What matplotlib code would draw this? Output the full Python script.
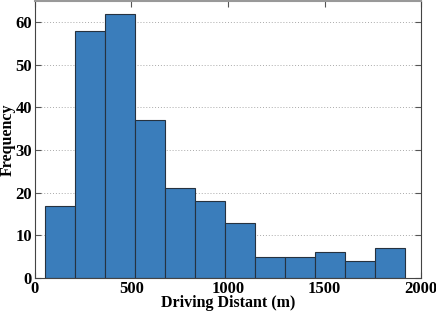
import numpy as np
import matplotlib.pyplot as plt

# histogram counts
counts = [17, 58, 62, 37, 21, 18, 13, 5, 5, 6, 4, 7]
first_edge = 52
last_edge = 1915
edges = np.linspace(first_edge, last_edge, len(counts) + 1)
centers = (edges[:-1] + edges[1:]) / 2

plt.rcParams['font.family'] = ['Liberation Serif', 'DejaVu Serif']
plt.rcParams['font.weight'] = 'bold'

fig = plt.figure(figsize=(4.36, 3.12), dpi=100)
ax = fig.add_axes([0.080, 0.109, 0.886, 0.888])

ax.hist(centers, bins=edges, weights=counts, color='#3a7dbb',
        edgecolor='#26323f', linewidth=0.8, zorder=2)

ax.set_xlim(0, 2000)
ax.set_ylim(0, 65)
ax.set_xticks([0, 500, 1000, 1500, 2000])
ax.set_yticks([0, 10, 20, 30, 40, 50, 60])
ax.yaxis.grid(True, linestyle=(0, (1, 2)), color='#aaaaaa', linewidth=0.7, zorder=0)

ax.tick_params(direction='in', top=True, right=True, labelsize=12, length=4,
               color='#555555', pad=2)
for lab in ax.get_xticklabels() + ax.get_yticklabels():
    lab.set_fontweight('bold')

ax.spines['top'].set_color('#999999')
ax.spines['top'].set_linewidth(1.5)
for s in ['left', 'right', 'bottom']:
    ax.spines[s].set_color('#444444')

ax.set_xlabel('Driving Distant (m)', fontsize=11.5, fontweight='bold', labelpad=-1)
ax.set_ylabel('Frequency', fontsize=11.5, fontweight='bold', labelpad=0)

fig.savefig('out.png', dpi=100)
